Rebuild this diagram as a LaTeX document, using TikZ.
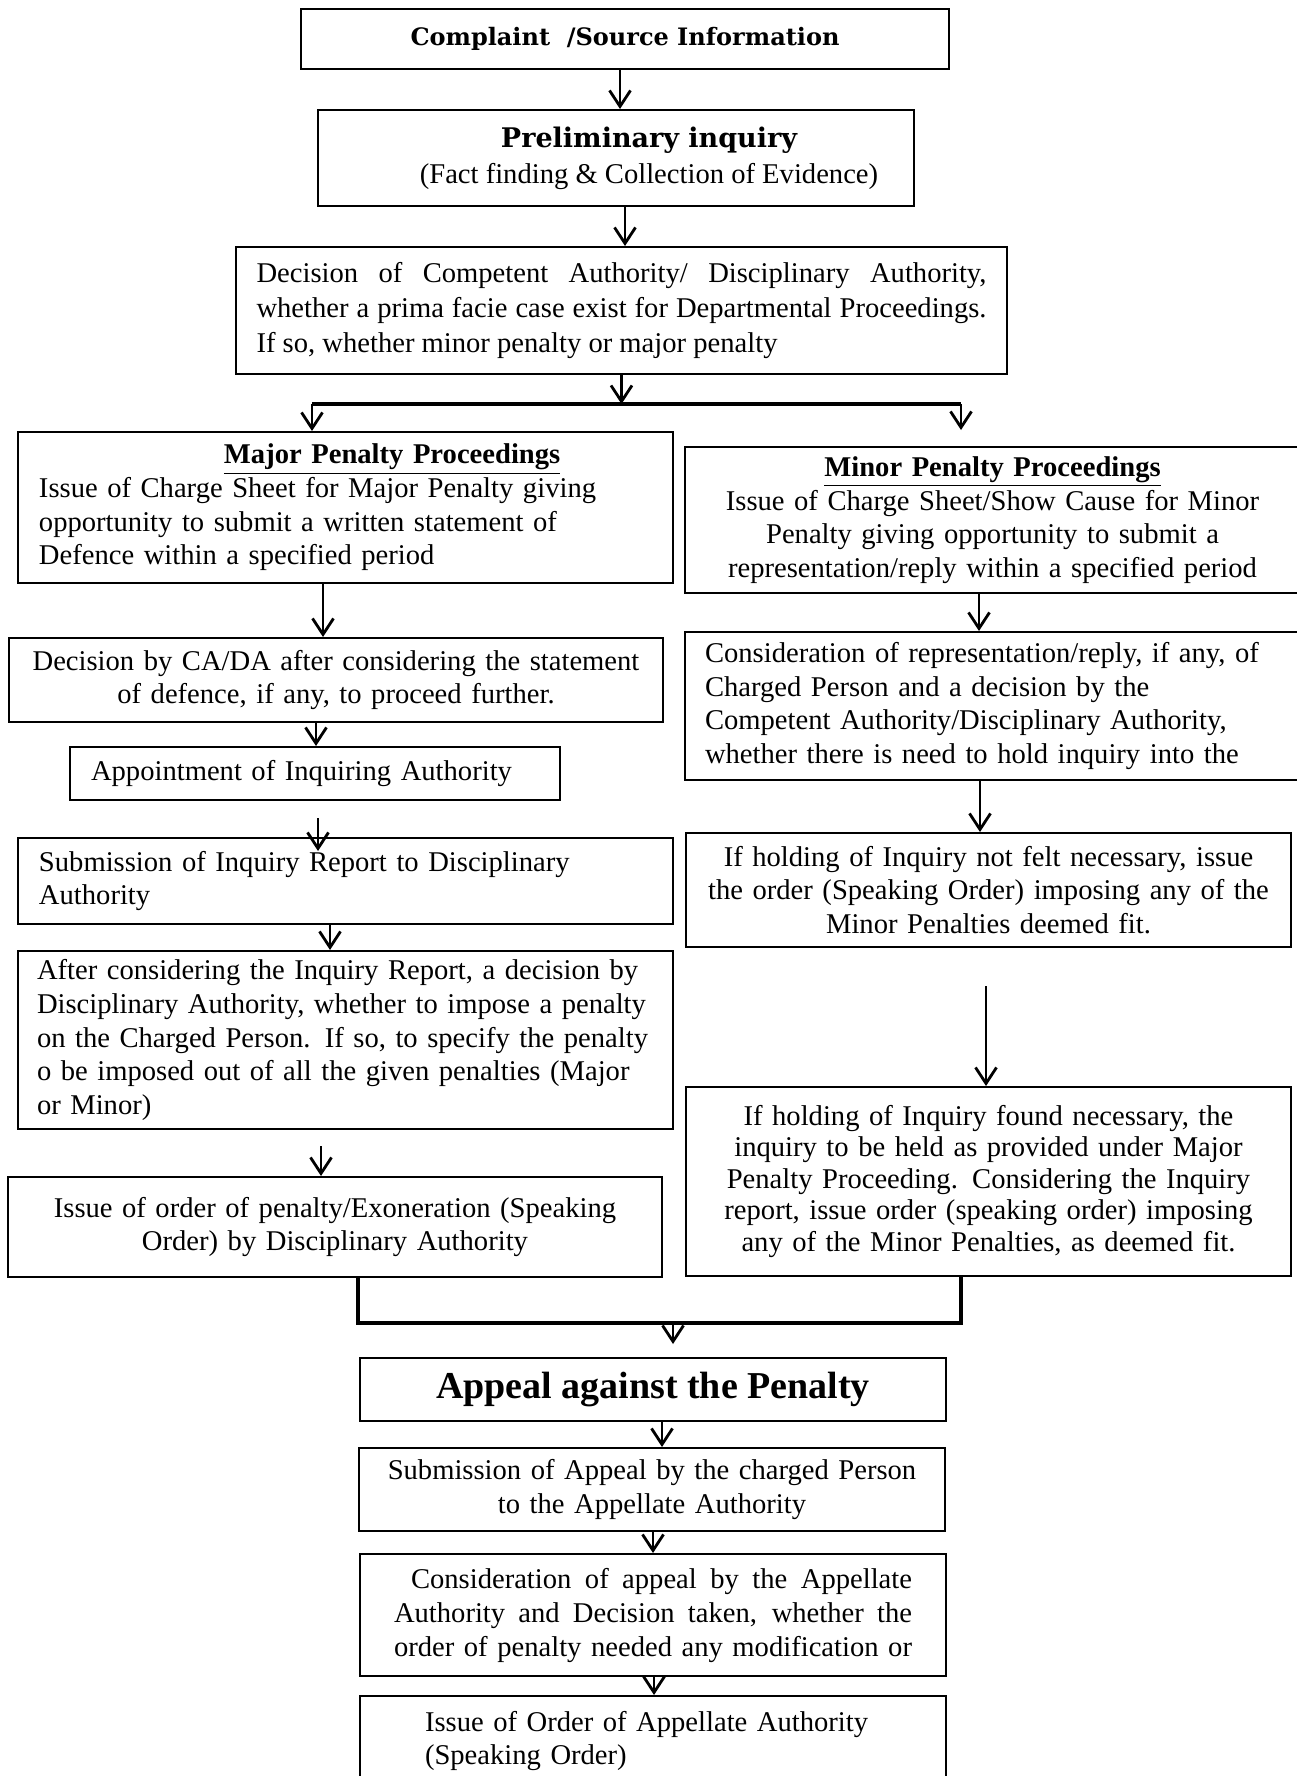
\documentclass[tikz,border=0pt]{standalone}
\usepackage{fontspec}
\setmainfont{Liberation Serif}
\newfontfamily\slabfont{DejaVu Serif}
\usetikzlibrary{arrows.meta}

\tikzset{every picture/.style={line width=1pt}}
\tikzset{
  box/.style={draw, rectangle, inner ysep=0pt, font=\fontsize{14.3}{16.8}\selectfont},
  arr/.style={line width=1.4pt, -{Straight Barb[length=8pt,width=10.5pt]}},
  bar/.style={line width=2.2pt}
}

\begin{document}
\begin{tikzpicture}[x=0.5pt,y=0.5pt,yscale=-1,xscale=1]
	\useasboundingbox (0,0) rectangle (1296,1776);

	%Shape: Rectangle
	\node[box, minimum width=324pt, minimum height=30pt, font=\slabfont\bfseries\fontsize{12}{14}\selectfont] (cmp) at (625,39) {Complaint \ /Source Information};
	%Shape: Rectangle
	\node[box, minimum width=298pt, minimum height=48pt, align=center, font=\fontsize{14.3}{18}\selectfont] (pre) at (616,158) {\hspace*{33pt}{\slabfont\bfseries\fontsize{13.5}{18}\selectfont Preliminary inquiry}\\ \hspace*{33pt}(Fact finding \& Collection of Evidence)};
	%Shape: Rectangle
	\node[box, minimum height=63.5pt, text width=365pt, inner xsep=10.25pt, align=justify, font=\fontsize{14.3}{17.5}\selectfont] (dec) at (621.5,310.5) {Decision of Competent Authority/ Disciplinary Authority,\linebreak whether a prima facie case exist for Departmental Proceedings.\linebreak If so, whether minor penalty or major penalty};

	% Major penalty side
	%Shape: Rectangle
	\node[box, minimum height=75.5pt, text width=306.5pt, inner xsep=10.5pt, align=left] (maj) at (345.5,507.5) {\hspace*{92.5pt}\underline{\textbf{Major Penalty Proceedings}}\\ Issue of Charge Sheet for Major Penalty giving\\ opportunity to submit a written statement of\\ Defence within a specified period};
	%Shape: Rectangle
	\node[box, minimum height=42pt, text width=315pt, inner xsep=6pt, align=center] (cada) at (336,680) {Decision by CA/DA after considering the statement\\ of defence, if any, to proceed further.};
	%Shape: Rectangle
	\node[box, minimum height=26.5pt, text width=224pt, inner xsep=10.5pt, align=left] (apt) at (315,773.5) {Appointment of Inquiring Authority};
	%Shape: Rectangle
	\node[box, minimum height=43pt, text width=306.5pt, inner xsep=10.5pt, align=left] (sub) at (345.5,881) {Submission of Inquiry Report to Disciplinary\\ Authority};
	%Shape: Rectangle
	\node[box, minimum height=89pt, text width=308.5pt, inner xsep=9.5pt, align=left] (aft) at (345.5,1040) {After considering the Inquiry Report, a decision by\\ Disciplinary Authority, whether to impose a penalty\\ on the Charged Person. If so, to specify the penalty\\ o be imposed out of all the given penalties (Major\\ or Minor)};
	%Shape: Rectangle
	\node[box, minimum height=50pt, text width=315pt, inner xsep=6pt, align=center] (ord) at (335,1227) {Issue of order of penalty/Exoneration (Speaking\\ Order) by Disciplinary Authority};

	% Minor penalty side
	%Shape: Rectangle
	\node[box, minimum height=73pt, text width=286.5pt, inner xsep=10.5pt, align=center] (mnr) at (992.5,520) {\underline{\textbf{Minor Penalty Proceedings}}\\ Issue of Charge Sheet/Show Cause for Minor\\ Penalty giving opportunity to submit a\\ representation/reply within a specified period};
	%Shape: Rectangle
	\node[box, minimum height=74pt, text width=287.5pt, inner xsep=10pt, align=left] (cns) at (992.5,706) {Consideration of representation/reply, if any, of\\ Charged Person and a decision by the\\ Competent Authority/Disciplinary Authority,\\ whether there is need to hold inquiry into the};
	%Shape: Rectangle
	\node[box, minimum height=57pt, text width=292.5pt, inner xsep=5pt, align=center] (nfn) at (988.5,890) {If holding of Inquiry not felt necessary, issue\\ the order (Speaking Order) imposing any of the\\ Minor Penalties deemed fit.};
	%Shape: Rectangle
	\node[box, minimum height=94.5pt, text width=292.5pt, inner xsep=5pt, align=center, font=\fontsize{14.3}{15.75}\selectfont] (fnd) at (988.5,1181.5) {If holding of Inquiry found necessary, the\\ inquiry to be held as provided under Major\\ Penalty Proceeding. Considering the Inquiry\\ report, issue order (speaking order) imposing\\ any of the Minor Penalties, as deemed fit.};

	% Appeal
	%Shape: Rectangle
	\node[box, minimum width=293pt, minimum height=31.5pt, font=\bfseries\fontsize{19}{22}\selectfont] (app) at (653,1389.5) {Appeal against the Penalty};
	%Shape: Rectangle
	\node[box, minimum height=41.5pt, text width=279pt, inner xsep=7pt, align=center] (sap) at (652,1489.5) {Submission of Appeal by the charged Person\\ to the Appellate Authority};
	%Shape: Rectangle
	\node[box, minimum height=61pt, text width=259pt, inner xsep=17pt, align=justify, font=\fontsize{14.3}{17}\selectfont] (cap) at (653,1615) {\parfillskip=0pt \hspace*{8.5pt}Consideration of appeal by the Appellate\linebreak Authority and Decision taken, whether the\linebreak order of penalty needed any modification or\par};
	%Shape: Rectangle
	\node[box, minimum height=45pt, text width=228pt, inner xsep=32.5pt, align=left] (iss) at (653,1741) {Issue of Order of Appellate Authority\\ (Speaking Order)};

	%Straight Lines
	\draw[arr] ([xshift=-2.5pt]cmp.south) -- ([xshift=2pt]pre.north);
	\draw[arr] ([xshift=4.5pt]pre.south) -- ([xshift=1.75pt]dec.north);

	\coordinate (split) at (621.5,404);
	\coordinate (splitL) at (312,404);
	\coordinate (splitR) at (961,404);
	\coordinate (splitRend) at (961,430);
	\draw[arr] (dec.south) -- (split);
	\draw[bar] (splitL) -- (splitR);
	\draw[arr] (splitL) -- ([xshift=-16.75pt]maj.north);
	\draw[arr] (splitR) -- (splitRend);

	%Straight Lines
	\draw[arr] ([xshift=-11.25pt]maj.south) -- ([xshift=-6.5pt]cada.north);
	\draw[arr] ([xshift=-10pt]cada.south) -- ([xshift=0.5pt]apt.north);
	\draw[arr, shorten <=8.5pt, shorten >=-7pt] ([xshift=1.5pt]apt.south) -- ([xshift=-13.75pt]sub.north);
	\draw[arr] ([xshift=-7.75pt]sub.south) -- ([xshift=-7.75pt]aft.north);
	\draw[arr, shorten <=8pt] ([xshift=-12.25pt]aft.south) -- ([xshift=-7pt]ord.north);

	%Straight Lines
	\draw[arr] ([xshift=-6.75pt]mnr.south) -- ([xshift=-6.75pt]cns.north);
	\draw[arr] ([xshift=-6.25pt]cns.south) -- ([xshift=-4.25pt]nfn.north);
	\draw[arr, shorten <=19pt] ([xshift=-1.25pt]nfn.south) -- ([xshift=-1.25pt]fnd.north);

	\coordinate (joinL) at (358,1323);
	\coordinate (joinR) at (961,1323);
	\coordinate (join) at (673,1323);
	\draw[bar] ([xshift=11.5pt]ord.south) -- (joinL) -- (joinR) -- ([xshift=-13.75pt]fnd.south);
	\draw[arr, shorten >=6.5pt] (join) -- ([xshift=10pt]app.north);
	\draw[arr] ([xshift=4.5pt]app.south) -- ([xshift=5pt]sap.north);
	\draw[arr] ([xshift=0.5pt]sap.south) -- (cap.north);
	\draw[arr] ([xshift=0.5pt]cap.south) -- ([xshift=0.5pt]iss.north);

\end{tikzpicture}
\end{document}
